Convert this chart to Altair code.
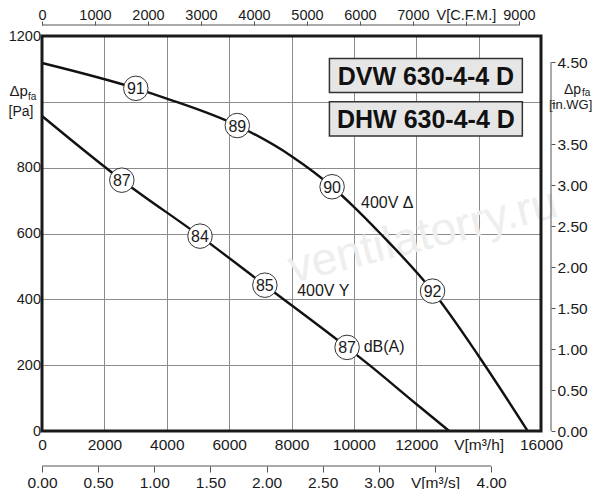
import altair as alt
import pandas as pd

# ---------------- data ----------------
# 400V delta curve (V [m3/h], dp_fa [Pa])
delta_q = [0, 3008, 4000, 6262, 8000, 9302, 10000, 10848, 12522, 14000, 15573]
delta_p = [1118, 1041, 1010, 928, 835, 742, 681, 600, 425, 228, 0]
# 400V Y curve
wye_q = [0, 2560, 5066, 7146, 9782, 10500, 12000, 13056]
wye_p = [957, 762, 592, 443, 254, 200, 82, 0]

# sound level markers dB(A)
marker_q = [3008, 6262, 9302, 12522, 2560, 5066, 7146, 9782]
marker_p = [1041, 928, 742, 425, 762, 592, 443, 254]
marker_db = ["91", "89", "90", "92", "87", "84", "85", "87"]

# curve annotations
note_text = ["400V Δ", "400V Y", "dB(A)"]
note_q = [10230, 8182, 10314]
note_p = [694, 426, 254]

# model name boxes
model_names = ["DVW 630-4-4 D", "DHW 630-4-4 D"]
model_q1 = [9216, 9216]
model_q2 = [15402, 15402]
model_p1 = [1132, 1000]
model_p2 = [1028, 896]

# tick values of the axes
m3h_ticks = [0, 2000, 4000, 6000, 8000, 10000, 12000, 14000, 16000]
pa_ticks = [0, 200, 400, 600, 800, 1000, 1200]
cfm_ticks = [0, 1000, 2000, 3000, 4000, 5000, 6000, 7000, 8000, 9000]
m3s_ticks = [0, 0.5, 1.0, 1.5, 2.0, 2.5, 3.0, 3.5, 4.0]
inwg_ticks = [0, 0.5, 1.0, 1.5, 2.0, 2.5, 3.0, 3.5, 4.0, 4.5]

# unit conversions
M3H_PER_CFM = 1.699011
PA_PER_INWG = 249.089
M3H_PER_M3S = 3600.0

# ---------------- chart ----------------
W, H = 499, 395
FONT = "Liberation Sans"
TXT = "#1a1a1a"
Q_MAX, P_MAX = 16000, 1200

curves = pd.DataFrame({
    "q": delta_q + wye_q,
    "p": delta_p + wye_p,
    "s": ["delta"] * len(delta_q) + ["wye"] * len(wye_q),
})
markers = pd.DataFrame({"q": marker_q, "p": marker_p, "db": marker_db})
notes = pd.DataFrame({"q": note_q, "p": note_p, "t": note_text})
boxes = pd.DataFrame({
    "q1": model_q1, "q2": model_q2, "p1": model_p1, "p2": model_p2,
    "name": model_names,
})
boxes["qc"] = (boxes["q1"] + boxes["q2"]) / 2
boxes["pc"] = (boxes["p1"] + boxes["p2"]) / 2

xs = alt.Scale(domain=[0, Q_MAX], nice=False, zero=False)
ys = alt.Scale(domain=[0, P_MAX], nice=False)

common_axis = dict(labelFont=FONT, labelColor=TXT,
                   labelFlush=False, labelOverlap=False, title=None)

x_axis = alt.Axis(orient="bottom", values=m3h_ticks, format="d",
                  labelExpr="datum.value == 14000 ? 'V[m³/h]' : datum.label",
                  grid=True, gridColor="#8c8c8c", gridWidth=1,
                  domain=False, ticks=False, labelPadding=6, labelFontSize=15.5,
                  **common_axis)
y_axis = alt.Axis(orient="left", values=pa_ticks, format="d",
                  labelExpr="datum.value == 1000 ? '' : datum.label",
                  grid=True, gridColor="#8c8c8c", gridWidth=1,
                  domain=False, ticks=False, labelPadding=1.5, labelFontSize=14.5,
                  **common_axis)

lines = alt.Chart(curves).mark_line(color="#111111", strokeWidth=2.4,
                                    interpolate="monotone").encode(
    x=alt.X("q:Q", scale=xs, axis=x_axis),
    y=alt.Y("p:Q", scale=ys, axis=y_axis),
    detail="s:N",
)

circles = alt.Chart(markers).mark_circle(color="white", opacity=1, size=600,
                                         stroke="#333333", strokeWidth=1).encode(
    x=alt.X("q:Q", scale=xs, axis=None),
    y=alt.Y("p:Q", scale=ys, axis=None),
)
circle_text = alt.Chart(markers).mark_text(font=FONT, fontSize=16, color=TXT,
                                           baseline="middle", dy=1).encode(
    x=alt.X("q:Q", scale=xs, axis=None),
    y=alt.Y("p:Q", scale=ys, axis=None),
    text="db:N",
)
note_marks = alt.Chart(notes).mark_text(font=FONT, fontSize=16, color=TXT,
                                        align="left", baseline="middle").encode(
    x=alt.X("q:Q", scale=xs, axis=None),
    y=alt.Y("p:Q", scale=ys, axis=None),
    text="t:N",
)
box_rect = alt.Chart(boxes).mark_rect(fill="#e6e6e6", stroke="#333333",
                                      strokeWidth=1.5).encode(
    x=alt.X("q1:Q", scale=xs, axis=None), x2="q2:Q",
    y=alt.Y("p1:Q", scale=ys, axis=None), y2="p2:Q",
)
box_text = alt.Chart(boxes).mark_text(font=FONT, fontSize=25, fontWeight="bold",
                                      color="#111111", baseline="middle", dy=1).encode(
    x=alt.X("qc:Q", scale=xs, axis=None),
    y=alt.Y("pc:Q", scale=ys, axis=None),
    text="name:N",
)

one = pd.DataFrame({"k": [0]})


def label(text, x, y, size, color=TXT, align="left", **kw):
    return alt.Chart(one).mark_text(text=text, font=FONT, fontSize=size, color=color,
                                    align=align, baseline="middle", **kw).encode(
        x=alt.value(x), y=alt.value(y))


watermark = label("ventilatorry.ru", 381, 200, 46, color="#eeeeee",
                  align="center", angle=346)

titles = [
    label("Δp", -32.5, 55, 15),
    label("fa", -14, 61, 10),
    label("[Pa]", -33.5, 76, 14),
    label("Δp", 522, 53.5, 14),
    label("fa", 540, 57, 10),
    label("[in.WG]", 507, 68.5, 13),
]

frame = alt.Chart(one).mark_rect(fillOpacity=0, stroke="#1a1a1a", strokeWidth=3).encode(
    x=alt.value(0), x2=alt.value(W), y=alt.value(0), y2=alt.value(H))

# secondary axes (same scales, converted tick positions) ---------------------
sec_axis = dict(domain=False, tickColor="#555555", tickWidth=1, grid=False,
                **common_axis)
AX_COL = "#555555"

cfm_vals = [c * M3H_PER_CFM for c in cfm_ticks]
cfm_expr = (f"round(datum.value / {M3H_PER_CFM}) == 8000 ? 'V[C.F.M.]' : "
            f"format(round(datum.value / {M3H_PER_CFM}), 'd')")
cfm_layer = alt.Chart(pd.DataFrame({"a": [cfm_vals[0]], "b": [cfm_vals[-1]]})).mark_rule(
    color=AX_COL, strokeWidth=1).encode(
    x=alt.X("a:Q", scale=xs,
            axis=alt.Axis(orient="top", offset=11, values=cfm_vals, tickSize=4,
                          labelPadding=-1.5, labelFontSize=14.5, labelExpr=cfm_expr,
                          **sec_axis)),
    x2="b:Q",
    y=alt.value(-11),
)

m3s_vals = [m * M3H_PER_M3S for m in m3s_ticks]
m3s_expr = (f"round(datum.value / {M3H_PER_M3S} * 100) == 350 ? 'V[m³/s]' : "
            f"format(datum.value / {M3H_PER_M3S}, '.2f')")
m3s_layer = alt.Chart(pd.DataFrame({"a": [m3s_vals[0]], "b": [m3s_vals[-1]]})).mark_rule(
    color=AX_COL, strokeWidth=1).encode(
    x=alt.X("a:Q", scale=xs,
            axis=alt.Axis(orient="bottom", offset=35, values=m3s_vals, tickSize=6,
                          labelPadding=3, labelFontSize=15.5, labelExpr=m3s_expr,
                          **sec_axis)),
    x2="b:Q",
    y=alt.value(H + 35),
)

inwg_vals = [w * PA_PER_INWG for w in inwg_ticks]
inwg_expr = (f"round(datum.value / {PA_PER_INWG} * 100) == 400 ? '' : "
             f"format(datum.value / {PA_PER_INWG}, '.2f')")
inwg_layer = alt.Chart(pd.DataFrame({"a": [inwg_vals[0]], "b": [inwg_vals[-1]]})).mark_rule(
    color=AX_COL, strokeWidth=1).encode(
    y=alt.Y("a:Q", scale=ys,
            axis=alt.Axis(orient="right", offset=10, values=inwg_vals, tickSize=4,
                          labelPadding=2, labelFontSize=15.5, labelExpr=inwg_expr,
                          **sec_axis)),
    y2="b:Q",
    x=alt.value(W + 10),
)

chart = alt.layer(
    watermark, lines, box_rect, box_text, circles, circle_text, note_marks, frame,
    *titles, cfm_layer, m3s_layer, inwg_layer,
).resolve_axis(
    x="independent", y="independent"
).properties(
    width=W, height=H,
    autosize=alt.AutoSizeParams(type="none"),
    padding={"left": 34, "top": 28, "right": 51, "bottom": 58},
    background="white",
).configure_view(strokeWidth=0).configure(font=FONT)

chart.save("out.html", embed_options={"renderer": "svg", "actions": False})
